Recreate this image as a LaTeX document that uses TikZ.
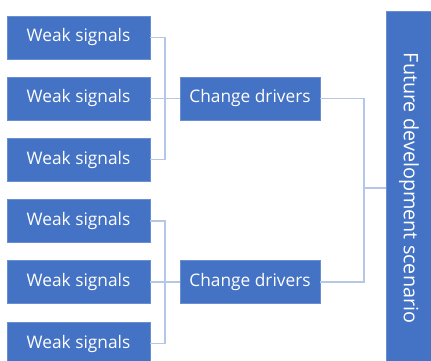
\documentclass[tikz,border=0pt]{standalone}
\usepackage{fontspec}
\setmainfont{Open Sans}
\begin{document}
\begin{tikzpicture}[x=1pt,y=-1pt,
  box/.style={fill=boxblue, draw=boxedge, line width=0.6pt, text=white, inner sep=0pt, font=\fontsize{17.3}{20}\selectfont},
  wsbox/.style={box, minimum width=143pt, minimum height=43pt},
  cdbox/.style={box, minimum width=140pt, minimum height=43pt},
  link/.style={draw=linkblue, line width=1.2pt}]
\definecolor{boxblue}{HTML}{4472C4}
\definecolor{boxedge}{HTML}{6A8FD0}
\definecolor{linkblue}{HTML}{B4C7E7}
\useasboundingbox (0,0) rectangle (431,360);
\begin{scope}
\clip (0,0) rectangle (431,360);
\node[wsbox] (w1) at (78.5,37.5) {Weak signals};
\node[wsbox] (w2) at (78.5,98.5) {Weak signals};
\node[wsbox] (w3) at (78.5,159.5) {Weak signals};
\node[wsbox] (w4) at (78.5,221) {Weak signals};
\node[wsbox] (w5) at (78.5,282) {Weak signals};
\node[wsbox] (w6) at (78.5,343.5) {Weak signals};
\node[cdbox] (c1) at (250,98.5) {Change drivers};
\node[cdbox] (c2) at (250,282) {Change drivers};
\node[box, minimum width=58pt, minimum height=360pt, anchor=north west] (f) at (386,11) {};
\node[text=white, font=\fontsize{19.8}{22}\selectfont, rotate=-90] (ft) at (409,188) {Future development scenario};
\end{scope}
\coordinate (j1) at (165,98.5);
\coordinate (j2) at (165,282);
\coordinate (j3) at (364,188);
\draw[link] (w1.east) -| (j1) |- (w3.east);
\draw[link] (w2.east) -- (c1.west);
\draw[link] (w4.east) -| (j2) |- (w6.east);
\draw[link] (w5.east) -- (c2.west);
\draw[link] (c1.east) -| (j3) |- (c2.east);
\draw[link] (j3) -- (j3 -| f.west);
\end{tikzpicture}
\end{document}
